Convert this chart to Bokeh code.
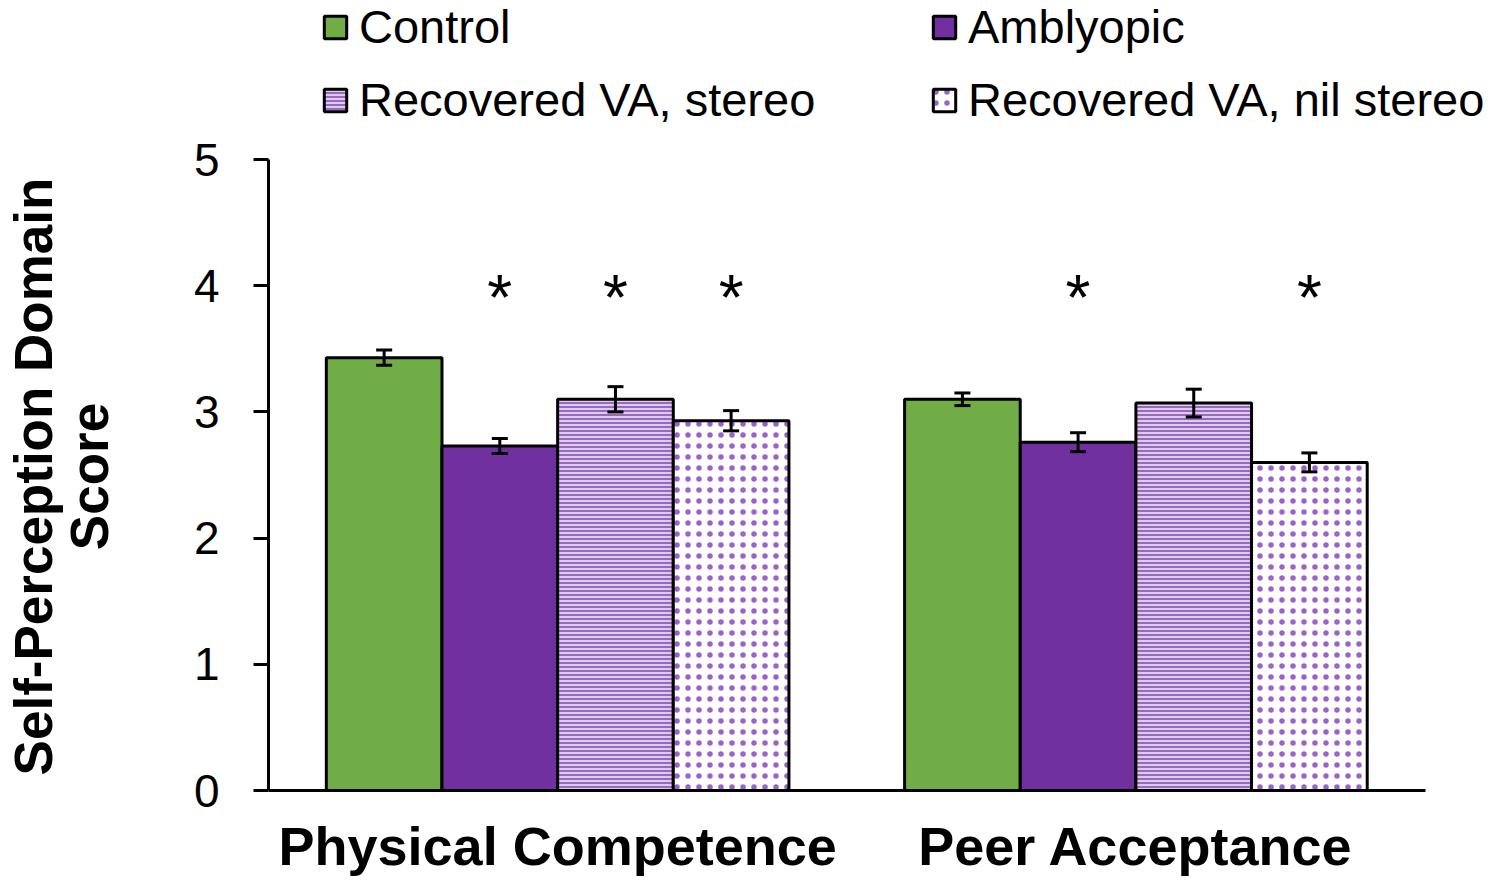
from bokeh.plotting import figure
from bokeh.models import (Range1d, ColumnDataSource, Whisker, Legend,
                          LegendItem, TeeHead, FixedTicker)
from bokeh.core.properties import value
from bokeh.embed import file_html
from bokeh.resources import INLINE

# ---------------- data ----------------
domains = ["Physical Competence", "Peer Acceptance"]
groups = ["Control", "Amblyopic", "Recovered VA, stereo", "Recovered VA, nil stereo"]

control_mean = [3.43, 3.10]
control_err = [0.06, 0.05]
amblyopic_mean = [2.73, 2.76]
amblyopic_err = [0.06, 0.075]
stereo_mean = [3.10, 3.07]
stereo_err = [0.10, 0.11]
nilstereo_mean = [2.93, 2.60]
nilstereo_err = [0.08, 0.075]

# significance markers (* = different from control)
control_sig = [False, False]
amblyopic_sig = [True, True]
stereo_sig = [True, False]
nilstereo_sig = [True, True]

y_ticks = [0, 1, 2, 3, 4, 5]

means = [control_mean, amblyopic_mean, stereo_mean, nilstereo_mean]
errs = [control_err, amblyopic_err, stereo_err, nilstereo_err]
sigs = [control_sig, amblyopic_sig, stereo_sig, nilstereo_sig]

# ---------------- styles / layout ----------------
FONT = "Liberation Sans"
offsets = [-0.3, -0.1, 0.1, 0.3]
styles = [
    dict(fill_color="#70AD47"),
    dict(fill_color="#7030A0"),
    dict(fill_color="#dccbea", hatch_pattern="horizontal_line", hatch_color="#8650b4",
         hatch_scale=4, hatch_weight=1.6),
    dict(fill_color="#ffffff", hatch_pattern="dot", hatch_color="#9a63cc",
         hatch_scale=11, hatch_weight=1),
]
ast_y = 3.90
centers = [k + 0.5 for k in range(len(domains))]      # category centres on the x scale
# plotting area extends above 5 (legend) and right of the last category (legend text)
Y_TOP = 5 * 790 / 631
X_END = len(domains) * (1484 - 257) / 1167
PAD = "\u00a0" * 11   # keeps the rotated axis title centred on the 0-5 axis

p = figure(x_range=Range1d(0, X_END), y_range=Range1d(0, Y_TOP),
           width=1484, height=879, output_backend="svg", toolbar_location=None,
           min_border_left=257, min_border_right=0, min_border_top=0, min_border_bottom=89)
p.outline_line_color = None
p.xgrid.grid_line_color = None
p.ygrid.grid_line_color = None
p.background_fill_color = "white"

renderers = []
for i, g in enumerate(groups):
    xs = [c + offsets[i] for c in centers]
    src = ColumnDataSource(dict(
        x=xs, top=means[i],
        upper=[m + e for m, e in zip(means[i], errs[i])],
        lower=[m - e for m, e in zip(means[i], errs[i])],
    ))
    r = p.vbar(x="x", top="top", width=0.2, source=src,
               line_color="black", line_width=3, **styles[i])
    renderers.append(r)
    w = Whisker(source=src, base="x", upper="upper", lower="lower",
                line_color="black", line_width=3, level="overlay",
                upper_head=TeeHead(size=16, line_width=3, line_color="black"),
                lower_head=TeeHead(size=16, line_width=3, line_color="black"))
    p.add_layout(w)
    sx = [x for x, s in zip(xs, sigs[i]) if s]
    if sx:
        ssrc = ColumnDataSource(dict(x=sx, y=[ast_y] * len(sx), t=["*"] * len(sx)))
        p.text(x="x", y="y", text="t", source=ssrc,
               text_font=value(FONT), text_font_size="64px", text_align="center",
               text_baseline="alphabetic", text_color="black")

# axes
p.yaxis.ticker = FixedTicker(ticks=y_ticks)
p.yaxis.bounds = (0, 5)
p.yaxis.axis_line_width = 3
p.yaxis.major_tick_line_width = 3
p.yaxis.major_tick_out = 15
p.yaxis.major_tick_in = 0
p.yaxis.minor_tick_line_color = None
p.yaxis.major_label_text_font = FONT
p.yaxis.major_label_text_font_size = "46px"
p.yaxis.major_label_text_color = "black"
p.yaxis.major_label_standoff = 34
p.yaxis.axis_label = "Self-Perception Domain" + PAD + "\nScore" + PAD
p.yaxis.axis_label_text_font = FONT
p.yaxis.axis_label_text_font_style = "bold"
p.yaxis.axis_label_text_font_size = "53px"
p.yaxis.axis_label_text_line_height = 0.95
p.yaxis.axis_label_text_color = "black"
p.yaxis.axis_label_standoff = 72

p.xaxis.ticker = FixedTicker(ticks=centers)
p.xaxis.major_label_overrides = {c: d for c, d in zip(centers, domains)}
p.xaxis.bounds = (0, len(domains))
p.xaxis.axis_line_width = 3
p.xaxis.major_tick_line_color = None
p.xaxis.minor_tick_line_color = None
p.xaxis.major_label_text_font = FONT
p.xaxis.major_label_text_font_style = "bold"
p.xaxis.major_label_text_font_size = "54px"
p.xaxis.major_label_text_color = "black"
p.xaxis.major_label_standoff = 19

def make_legend(items, loc):
    return Legend(items=items, location=loc, orientation="vertical",
                  border_line_color=None, background_fill_alpha=0, padding=0, margin=0,
                  spacing=18, glyph_width=28, glyph_height=28, label_height=55,
                  label_standoff=10, label_text_font=FONT, label_text_font_size="47px",
                  label_text_color="black")

leg1 = make_legend([LegendItem(label=groups[0], renderers=[renderers[0]]),
                    LegendItem(label=groups[2], renderers=[renderers[2]])], (53, 663))
leg2 = make_legend([LegendItem(label=groups[1], renderers=[renderers[1]]),
                    LegendItem(label=groups[3], renderers=[renderers[3]])], (662, 663))
p.add_layout(leg1, "center")
p.add_layout(leg2, "center")

open("out.html", "w").write(file_html(p, INLINE))
